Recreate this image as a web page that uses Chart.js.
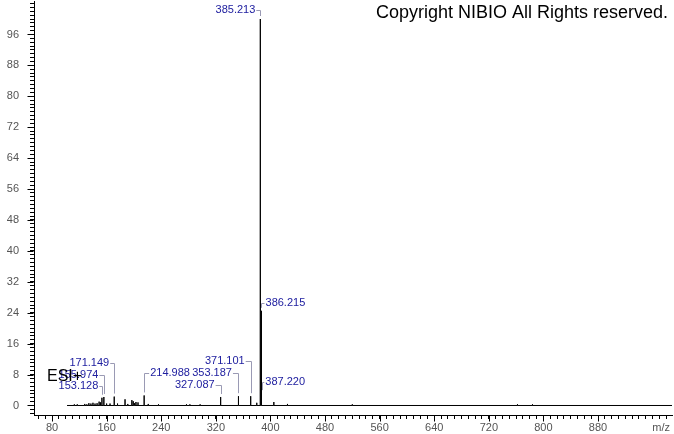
<!DOCTYPE html>
<html><head><meta charset="utf-8">
<script src="https://cdn.jsdelivr.net/npm/chart.js@4/dist/chart.umd.min.js"></script>
<style>html,body{margin:0;padding:0;background:#fff;}#wrap{width:674px;height:434px;position:relative;}</style>
</head><body><div id="wrap"><canvas id="c" width="674" height="434"></canvas></div>
<script>
// ---- data ----
const peakMz = [112.7,117,128,131,134,137,140,143,146,149,151,153.128,155.974,160,165,171.149,176,187,191,197,199,201,203,206,214.988,221,236,277,282,297,327.087,353.187,371.101,380,385.213,386.215,387.220,405,425,520,762,784];
const peakIntensity = [0.3,0.3,0.4,0.3,0.6,0.5,0.7,0.5,0.6,1.0,0.8,2.0,2.2,0.5,0.5,2.3,0.5,1.6,0.4,1.4,1.1,0.6,0.9,0.8,2.6,0.4,0.3,0.3,0.3,0.3,2.2,2.4,2.4,0.7,100,24.5,3.2,0.9,0.4,0.3,0.3,0.3];
const baselineRange = [102, 988.4];
const labeledPeaks = ['385.213','386.215','387.220','371.101','353.187','327.087','214.988','171.149','155.974','153.128'];
const xTickLabels = [80,160,240,320,400,480,560,640,720,800,880];
const yTickLabels = [0,8,16,24,32,40,48,56,64,72,80,88,96];
const xAxisTitle = 'm/z';
const modeText = 'ESI+';
const copyrightText = 'Copyright NIBIO All Rights reserved.';

// ---- label layout (pixel offsets, not data) ----
const labelLayout = {
  '385.213': {side:'left',  dx:-5,   y:10},
  '386.215': {side:'right', dx:4.5,  y:303},
  '387.220': {side:'right', dx:3.6,  y:382},
  '371.101': {side:'left',  dx:-6,   y:361},
  '353.187': {side:'left',  dx:-6.5, y:373},
  '327.087': {side:'left',  dx:-6,   y:385},
  '214.988': {side:'right', dx:6,    y:373},
  '171.149': {side:'left',  dx:-5,   y:363},
  '155.974': {side:'left',  dx:-5.5, y:375},
  '153.128': {side:'left',  dx:-3.6, y:386}
};

// build stick-spectrum line
const spectrum = [{x:baselineRange[0], y:0}];
peakMz.forEach((m,i)=>{ spectrum.push({x:m,y:0},{x:m,y:peakIntensity[i]},{x:m,y:0}); });
spectrum.push({x:baselineRange[1], y:0});

const X_MIN = 53.6, X_MAX = 988.4, Y_MIN = -2.46, Y_MAX = 104.66;
const xMinor = []; for (let v = 60; v <= X_MAX; v += 10) xMinor.push(v);
const yMinor = []; for (let v = -2; v <= Y_MAX; v += 1) yMinor.push(v);

const FONT = '"Liberation Sans", Arial, sans-serif';

const annot = {
  id: 'annot',
  afterDraw(chart) {
    const ctx = chart.ctx, xs = chart.scales.x, ys = chart.scales.y;
    ctx.save();
    // longer major ticks
    ctx.strokeStyle = '#000'; ctx.lineWidth = 1;
    const xb = Math.round(xs.top) + 0.5;
    xTickLabels.forEach(v => {
      const px = Math.round(xs.getPixelForValue(v)) + 0.5;
      ctx.beginPath(); ctx.moveTo(px, xb); ctx.lineTo(px, xb + 6); ctx.stroke();
    });
    const yr = Math.round(ys.right) - 0.5;
    yTickLabels.forEach(v => {
      const py = Math.round(ys.getPixelForValue(v)) + 0.5;
      ctx.beginPath(); ctx.moveTo(yr, py); ctx.lineTo(yr - 6, py); ctx.stroke();
    });
    // peak labels
    ctx.font = '11px ' + FONT;
    ctx.textBaseline = 'middle';
    labeledPeaks.forEach(lbl => {
      const mz = parseFloat(lbl);
      const idx = peakMz.findIndex(m => Math.abs(m - mz) < 1e-6);
      const L = labelLayout[lbl];
      const px = xs.getPixelForValue(mz);
      const top = ys.getPixelForValue(peakIntensity[idx]) - 3;
      const w = ctx.measureText(lbl).width;
      ctx.strokeStyle = '#9a9ab4'; ctx.lineWidth = 1;
      ctx.beginPath();
      if (L.side === 'left') {
        const tx = px + L.dx;
        ctx.moveTo(tx + 1, L.y + 0.5); ctx.lineTo(Math.round(px) + 0.5, L.y + 0.5);
        ctx.lineTo(Math.round(px) + 0.5, top);
        ctx.stroke();
        ctx.fillStyle = '#2020a0'; ctx.textAlign = 'right';
        ctx.fillText(lbl, tx, L.y);
      } else {
        const tx = px + L.dx;
        ctx.moveTo(Math.round(px) + 0.5, top); ctx.lineTo(Math.round(px) + 0.5, L.y + 0.5);
        ctx.lineTo(tx - 1, L.y + 0.5);
        ctx.stroke();
        ctx.fillStyle = '#2020a0'; ctx.textAlign = 'left';
        ctx.fillText(lbl, tx, L.y);
      }
    });
    // mode text
    ctx.fillStyle = '#000'; ctx.textAlign = 'left';
    ctx.font = '16px ' + FONT;
    ctx.fillText(modeText, 47, 377);
    // copyright
    ctx.font = '18px ' + FONT;
    ctx.textAlign = 'right';
    ctx.fillText(copyrightText, 668, 13);
    // axis title
    ctx.font = '11px ' + FONT;
    ctx.fillStyle = '#555';
    ctx.textAlign = 'right';
    ctx.fillText(xAxisTitle, 670, 428);
    ctx.restore();
  }
};

new Chart(document.getElementById('c'), {
  type: 'line',
  data: { datasets: [{
    data: spectrum, borderColor: '#000', borderWidth: 1, pointRadius: 0,
    fill: false, tension: 0, parsing: true
  }]},
  options: {
    responsive: false, animation: false, devicePixelRatio: 1,
    layout: { padding: { top: 1, right: 2, left: 0, bottom: 0 } },
    plugins: { legend: { display: false }, tooltip: { enabled: false } },
    scales: {
      x: {
        type: 'linear', position: 'bottom', min: X_MIN, max: X_MAX,
        border: { display: true, color: '#000', width: 1 },
        grid: { drawOnChartArea: false, drawTicks: true, tickLength: 4, color: '#000' },
        afterBuildTicks: s => { s.ticks = xMinor.map(v => ({value: v})); },
        ticks: {
          autoSkip: false, maxRotation: 0, minRotation: 0, padding: 2,
          color: '#555', font: { family: FONT, size: 11 },
          callback: v => xTickLabels.includes(v) ? String(v) : ''
        },
        afterFit: s => { s.height = 19; s.paddingLeft = 0; s.paddingRight = 0; }
      },
      y: {
        type: 'linear', position: 'left', min: Y_MIN, max: Y_MAX,
        border: { display: true, color: '#000', width: 1 },
        grid: { drawOnChartArea: false, drawTicks: true, tickLength: 4, color: '#000' },
        afterBuildTicks: s => { s.ticks = yMinor.map(v => ({value: v})); },
        ticks: {
          autoSkip: false, padding: 11,
          color: '#555', font: { family: FONT, size: 11 },
          callback: v => yTickLabels.includes(v) ? String(v) : ''
        },
        afterFit: s => { s.width = 34; s.paddingTop = 0; s.paddingBottom = 0; }
      }
    }
  },
  plugins: [annot]
});
</script></body></html>
